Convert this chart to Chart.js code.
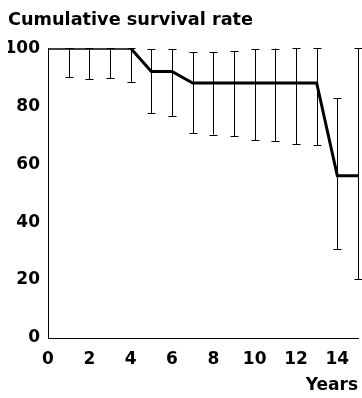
<!DOCTYPE html>
<html lang="en">
<head>
    <meta charset="UTF-8">
    <title>Cumulative survival rate</title>
    <style>
        body {
            margin: 0;
            padding: 0;
            background: #ffffff;
        }
        .chart-container {
            position: relative;
            width: 362px;
            height: 398px;
        }
    </style>
    <script src="https://cdn.jsdelivr.net/npm/chart.js"></script>
</head>
<body>
    <div class="chart-container">
        <canvas id="survivalChart"></canvas>
    </div>
    <script>
        // values
        const years = [0, 1, 2, 3, 4, 5, 6, 7, 8, 9, 10, 11, 12, 13, 14, 15];
        const survival = [100, 100, 100, 100, 100, 92, 92, 88, 88, 88, 88, 88, 88, 88, 56, 56];
        const upperCI = [null, 100, 100, 100, 100, 99.6, 99.6, 98.6, 98.6, 99, 99.6, 99.9, 100, 100, 82.7, 100];
        const lowerCI = [null, 90, 89.3, 89.7, 88.3, 77.6, 76.6, 70.6, 70.2, 69.7, 68.3, 67.9, 66.8, 66.6, 30.7, 20.3];
        const xTicks = [0, 2, 4, 6, 8, 10, 12, 14];
        const yTicks = [0, 20, 40, 60, 80, 100];

        const fontFamily = "'DejaVu Sans', Arial, sans-serif";

        // draws the whiskers through the chart scales
        const errorBars = {
            id: 'errorBars',
            beforeDatasetsDraw(chart) {
                const ctx = chart.ctx;
                const xs = chart.scales.x;
                const ys = chart.scales.y;
                ctx.save();
                ctx.strokeStyle = '#000';
                ctx.lineWidth = 1;
                years.forEach((yr, i) => {
                    if (upperCI[i] == null) return;
                    const px = Math.round(xs.getPixelForValue(yr)) + 0.5;
                    const top = ys.getPixelForValue(upperCI[i]);
                    const bot = ys.getPixelForValue(lowerCI[i]);
                    ctx.beginPath();
                    ctx.moveTo(px, top);
                    ctx.lineTo(px, bot);
                    ctx.moveTo(px - 4, Math.round(top) + 0.5);
                    ctx.lineTo(px + 4, Math.round(top) + 0.5);
                    ctx.moveTo(px - 4, Math.round(bot) + 0.5);
                    ctx.lineTo(px + 4, Math.round(bot) + 0.5);
                    ctx.stroke();
                });
                ctx.restore();
            }
        };

        const ctx = document.getElementById('survivalChart').getContext('2d');
        new Chart(ctx, {
            type: 'line',
            data: {
                datasets: [{
                    label: 'Cumulative survival rate',
                    data: years.map((yr, i) => ({ x: yr, y: survival[i] })),
                    borderColor: '#000',
                    borderWidth: 3,
                    pointRadius: 0,
                    tension: 0,
                    fill: false
                }]
            },
            options: {
                responsive: true,
                maintainAspectRatio: false,
                animation: false,
                layout: {
                    padding: { left: 8, right: 4, top: 0, bottom: 0 }
                },
                plugins: {
                    legend: { display: false },
                    tooltip: { enabled: false },
                    title: {
                        display: true,
                        text: 'Cumulative survival rate',
                        align: 'start',
                        color: '#000',
                        font: { family: fontFamily, size: 17.7, weight: 'bold' },
                        padding: { top: 10, bottom: 17 }
                    }
                },
                scales: {
                    x: {
                        type: 'linear',
                        min: 0,
                        max: 15,
                        afterBuildTicks: s => { s.ticks = xTicks.map(v => ({ value: v })); },
                        afterFit: s => { s.height = 60; },
                        grid: { display: false, drawTicks: false },
                        border: { display: true, color: '#000', width: 1 },
                        ticks: {
                            color: '#000',
                            padding: 11,
                            maxRotation: 0,
                            font: { family: fontFamily, size: 17, weight: 'bold' }
                        },
                        title: {
                            display: true,
                            text: 'Years',
                            align: 'end',
                            color: '#000',
                            padding: { top: 0, bottom: 2 },
                            font: { family: fontFamily, size: 17, weight: 'bold' }
                        }
                    },
                    y: {
                        min: 0,
                        max: 100,
                        afterBuildTicks: s => { s.ticks = yTicks.map(v => ({ value: v })); },
                        afterFit: s => { s.width = 40; },
                        grid: { display: false, drawTicks: false },
                        border: { display: true, color: '#000', width: 1 },
                        ticks: {
                            color: '#000',
                            padding: 8,
                            font: { family: fontFamily, size: 17, weight: 'bold' }
                        }
                    }
                }
            },
            plugins: [errorBars]
        });
    </script>
</body>
</html>
